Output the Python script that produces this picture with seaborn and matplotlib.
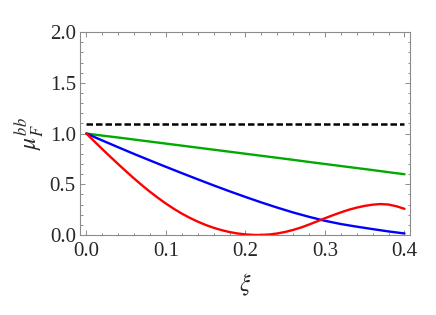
import matplotlib
matplotlib.use("Agg")
import matplotlib.pyplot as plt  # type: ignore
from matplotlib.ticker import MultipleLocator  # type: ignore
import seaborn as sns  # type: ignore

# Data
xi = [0.00, 0.02, 0.04, 0.06, 0.08, 0.10, 0.12, 0.14, 0.16, 0.18, 0.20,
      0.22, 0.24, 0.26, 0.28, 0.30, 0.32, 0.34, 0.36, 0.38, 0.40]
mu_green = [1.000, 0.980, 0.961, 0.941, 0.921, 0.901, 0.881, 0.861, 0.841,
            0.821, 0.801, 0.781, 0.761, 0.741, 0.720, 0.700, 0.680, 0.660,
            0.640, 0.619, 0.599]
mu_blue = [1.000, 0.932, 0.865, 0.799, 0.735, 0.672, 0.610, 0.549, 0.489,
           0.431, 0.375, 0.321, 0.270, 0.222, 0.179, 0.140, 0.108, 0.082,
           0.058, 0.035, 0.015]

xi_red = [0.00, 0.01, 0.02, 0.03, 0.04, 0.05, 0.06, 0.07, 0.08, 0.09, 0.10,
          0.11, 0.12, 0.13, 0.14, 0.15, 0.16, 0.17, 0.18, 0.19, 0.20,
          0.21, 0.215, 0.22, 0.23, 0.24, 0.25, 0.26, 0.27, 0.28, 0.29, 0.30,
          0.31, 0.32, 0.33, 0.34, 0.35, 0.36, 0.37, 0.38, 0.39, 0.40]
mu_red = [1.000, 0.923, 0.847, 0.772, 0.699, 0.627, 0.557, 0.490, 0.426,
          0.366, 0.310, 0.258, 0.211, 0.169, 0.132, 0.099, 0.071, 0.048,
          0.029, 0.015, 0.006, 0.001, 0.000, 0.001, 0.005, 0.015, 0.030,
          0.050, 0.074, 0.103, 0.134, 0.165, 0.195, 0.223, 0.249, 0.270,
          0.287, 0.299, 0.305, 0.300, 0.283, 0.258]

xi_ref = [0.0, 0.4]
mu_ref = [1.094, 1.094]

sns.set_style("ticks")
plt.rcParams["font.family"] = ["Liberation Serif", "DejaVu Serif"]
plt.rcParams["mathtext.fontset"] = "stix"

fig = plt.figure(figsize=(4.36, 3.15), dpi=100)
ax = fig.add_axes([0.1835, 0.254, 0.757, 0.644])

frame = "#8c8c8c"
sns.lineplot(x=xi_ref, y=mu_ref, color="black", lw=1.8, ax=ax)
ax.lines[-1].set_dashes((2.6, 1.2))
sns.lineplot(x=xi, y=mu_green, color="#00aa00", lw=1.7, ax=ax)
sns.lineplot(x=xi, y=mu_blue, color="#0000ff", lw=1.7, ax=ax)
sns.lineplot(x=xi_red, y=mu_red, color="#ff0000", lw=1.7, ax=ax)

ax.set_xlim(-0.008, 0.407)
ax.set_ylim(0, 2)
ax.xaxis.set_major_locator(MultipleLocator(0.1))
ax.xaxis.set_minor_locator(MultipleLocator(0.02))
ax.yaxis.set_major_locator(MultipleLocator(0.5))
ax.yaxis.set_minor_locator(MultipleLocator(0.1))
ax.xaxis.set_major_formatter(plt.FormatStrFormatter("%.1f"))
ax.yaxis.set_major_formatter(plt.FormatStrFormatter("%.1f"))

for s in ax.spines.values():
    s.set_color(frame)
    s.set_linewidth(0.8)
ax.tick_params(which="both", direction="in", top=True, right=True,
               color=frame, width=0.7, labelsize=15)
ax.tick_params(which="major", length=3.5)
ax.tick_params(which="minor", length=1.8)
ax.tick_params(axis="x", pad=5)
ax.tick_params(axis="y", pad=3)

ax.set_xlabel(r"$\xi$", fontsize=17, labelpad=8)
ax.set_ylabel(r"$\mu_F^{bb}$", fontsize=17, labelpad=2.5)

plt.savefig("out.png", dpi=100)
